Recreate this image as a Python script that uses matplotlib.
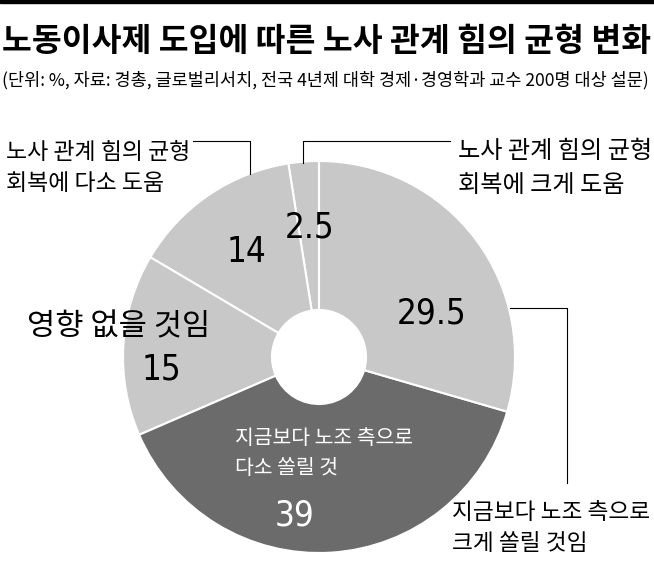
import matplotlib.pyplot as plt
from matplotlib import font_manager

W, H = 654, 564

# data (%, counter-clockwise from 12 o'clock)
values = [2.5, 14, 15, 39, 29.5]
value_labels = ["2.5", "14", "15", "39", "29.5"]
slice_colors = ["#c8c8c8", "#c8c8c8", "#c8c8c8", "#6b6b6b", "#c8c8c8"]

title = "노동이사제 도입에 따른 노사 관계 힘의 균형 변화"
subtitle = "(단위: %, 자료: 경총, 글로벌리서치, 전국 4년제 대학 경제·경영학과 교수 200명 대상 설문)"
cat_labels = [
    "노사 관계 힘의 균형\n회복에 크게 도움",
    "노사 관계 힘의 균형\n회복에 다소 도움",
    "영향 없을 것임",
    "지금보다 노조 측으로\n다소 쏠릴 것",
    "지금보다 노조 측으로\n크게 쏠릴 것임",
]

plt.rcParams['font.family'] = ['Noto Sans CJK KR', 'DejaVu Sans']

# a narrow face for the numbers, if one is around
fonts = font_manager.fontManager.ttflist
num_props = dict(family='Liberation Sans')
num_size = 25
if any(f.name == 'Liberation Sans Narrow' for f in fonts):
    num_props = dict(family='Liberation Sans Narrow')
    num_size = 28
elif any(f.name == 'DejaVu Sans' and f.stretch == 'condensed' for f in fonts):
    num_props = dict(family='DejaVu Sans', fontstretch='condensed')
    num_size = 25

fig = plt.figure(figsize=(W / 100, H / 100), dpi=100)
ax = fig.add_axes([0, 0, 1, 1])


def y(v):
    # pixel row (from top) -> data y
    return H - v


cx, cy, r = 319, 357, 196
ax.pie(values, colors=slice_colors, startangle=90, counterclock=True,
       center=(cx, y(cy)), radius=r,
       wedgeprops=dict(width=r - 47, edgecolor='white', linewidth=1.5))
ax.set_xlim(0, W)
ax.set_ylim(0, H)
ax.set_aspect('equal')
ax.axis('off')

# top rule
ax.axhspan(y(3), H, color='black')

renderer = fig.canvas.get_renderer()


def fit(t, width):
    w = t.get_window_extent(renderer).width
    t.set_fontsize(t.get_fontsize() * width / w)


t = ax.text(2, y(42), title, fontsize=22, fontweight='black', va='center', ha='left')
fit(t, 648)
t = ax.text(2, y(80), subtitle, fontsize=12, fontweight='medium', va='center', ha='left')
fit(t, 648)

# category labels
lab_kw = dict(fontsize=15, fontweight='medium', va='center', ha='left', linespacing=1.45)
t = ax.text(458, y(168), cat_labels[0], **lab_kw)
fit(t, 194)
t = ax.text(6, y(168), cat_labels[1], **lab_kw)
fit(t, 184)
t = ax.text(27, y(327), cat_labels[2], fontsize=20, fontweight='medium', va='center', ha='left')
fit(t, 183)
t = ax.text(235, y(453), cat_labels[3], color='white',
            **dict(lab_kw, linespacing=1.5))
fit(t, 178)
t = ax.text(452, y(528), cat_labels[4], **lab_kw)
fit(t, 198)

# values
num_pos = [(310, 228), (246, 252), (161, 370), (295, 516), (432, 314)]
for lab, (px, py), col in zip(value_labels, num_pos, slice_colors):
    ax.text(px, y(py), lab, fontsize=num_size, ha='center', va='center',
            color='white' if col == "#6b6b6b" else 'black', **num_props)

# leader lines
ax.plot([193, 250, 250], [y(141), y(141), y(174)], color='black', lw=0.8)
ax.plot([303, 303, 450], [y(163), y(141), y(141)], color='black', lw=0.8)
ax.plot([510, 567, 567], [y(308), y(308), y(483)], color='black', lw=0.8)

fig.savefig('out.png', dpi=100)
